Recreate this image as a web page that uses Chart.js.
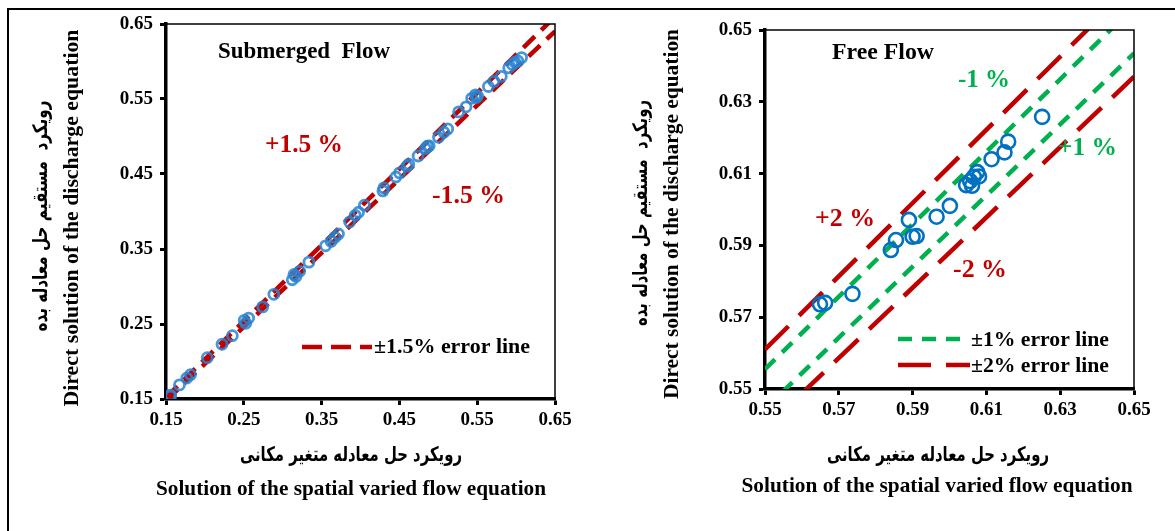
<!DOCTYPE html>
<html><head><meta charset="utf-8">
<script src="https://cdn.jsdelivr.net/npm/chart.js@4.4.1/dist/chart.umd.min.js"></script>
<style>
html,body{margin:0;padding:0;background:#fff;width:1175px;height:531px;overflow:hidden;position:relative;}
#frame{position:absolute;left:7px;top:8px;width:1300px;height:700px;border-top:2.5px solid #000;border-left:2.5px solid #000;}
canvas{position:absolute;top:0;}
#c1{left:0;width:580px;height:531px;}
#c2{left:580px;width:595px;height:531px;}
</style></head><body>
<div id="frame"></div>
<canvas id="c1" width="580" height="531"></canvas>
<canvas id="c2" width="595" height="531"></canvas>
<script>
// ---------- DATA ----------
// Submerged flow
const subX = [0.1554,0.1560,0.1673,0.1768,0.1815,0.2030,0.2220,0.2353,0.2505,0.2525,0.2562,0.2743,0.2886,0.3123,0.3145,0.3171,0.3218,0.3337,0.3551,0.3622,0.3670,0.3717,0.3860,0.3932,0.3975,0.4050,0.4288,0.4301,0.4455,0.4502,0.4597,0.4620,0.4740,0.4835,0.4860,0.4883,0.5002,0.5072,0.5121,0.5262,0.5357,0.5429,0.5477,0.5490,0.5505,0.5643,0.5715,0.5810,0.5905,0.5952,0.5985,0.6023,0.6071];
const subY = [0.1552,0.1540,0.1688,0.1779,0.1824,0.2051,0.2231,0.2344,0.2548,0.2510,0.2579,0.2728,0.2896,0.3090,0.3160,0.3135,0.3203,0.3325,0.3543,0.3601,0.3655,0.3700,0.3859,0.3949,0.3990,0.4084,0.4275,0.4315,0.4460,0.4515,0.4604,0.4630,0.4740,0.4840,0.4870,0.4876,0.4989,0.5057,0.5101,0.5328,0.5396,0.5509,0.5555,0.5520,0.5540,0.5667,0.5735,0.5803,0.5916,0.5961,0.5990,0.6007,0.6052];
const subLineX = [0.15, 0.65];
const subUpperY = [0.15225, 0.65975];   // +1.5 %
const subLowerY = [0.14775, 0.64025];   // -1.5 %
const subTicks = ['0.15','0.25','0.35','0.45','0.55','0.65'];

// Free flow
const freeX = [0.5649,0.5663,0.5737,0.5841,0.5855,0.5890,0.5900,0.5911,0.5965,0.6001,0.6045,0.6056,0.6061,0.6066,0.6075,0.6080,0.6114,0.6149,0.6159,0.6251];
const freeY = [0.5736,0.5740,0.5765,0.5887,0.5915,0.5971,0.5924,0.5926,0.5980,0.6010,0.6068,0.6079,0.6066,0.6091,0.6104,0.6092,0.6140,0.6159,0.6189,0.6258];
const freeLineX = [0.55, 0.65];
const err1UpperY = [0.5555, 0.6565];
const err1LowerY = [0.5445, 0.6435];
const err2UpperY = [0.5610, 0.6630];
const err2LowerY = [0.5390, 0.6370];
const freeTicks = ['0.55','0.57','0.59','0.61','0.63','0.65'];

const fa_y = 'رویکرد  مستقیم حل معادله بده';
const fa_x = 'رویکرد حل معادله متغیر مکانی';
const en_y = 'Direct solution of the discharge equation';
const en_x = 'Solution of the spatial varied flow equation';

// ---------- HELPERS ----------
const SERIF = '"Liberation Serif","Times New Roman",serif';
const RED = '#c00000', GREEN = '#00b050';
const pts = (xs, ys) => xs.map((x, i) => ({x, y: ys[i]}));

function drawTxt(ctx, t) {
  ctx.save();
  ctx.font = t.font;
  ctx.fillStyle = t.color || '#000';
  ctx.textBaseline = 'alphabetic';
  ctx.textAlign = t.align || 'left';
  const w = ctx.measureText(t.s).width;
  const sx = t.w ? t.w / w : 1;
  ctx.translate(t.x, t.y);
  if (t.rot) ctx.rotate(t.rot);
  ctx.scale(sx, 1);
  ctx.fillText(t.s, 0, 0);
  ctx.restore();
}
function drawLegLine(ctx, x1, x2, y, color, dash) {
  ctx.save();
  ctx.strokeStyle = color; ctx.lineWidth = 4.5; ctx.setLineDash(dash); ctx.lineCap = 'butt';
  ctx.beginPath(); ctx.moveTo(x1, y); ctx.lineTo(x2, y); ctx.stroke();
  ctx.restore();
}
function overlay(texts, legends) {
  return {
    id: 'overlay',
    afterDraw(chart) {
      const ctx = chart.ctx, a = chart.chartArea;
      ctx.save();
      ctx.strokeStyle = '#000'; ctx.lineWidth = 1.5;
      ctx.beginPath();
      ctx.moveTo(a.left, a.top); ctx.lineTo(a.right, a.top); ctx.lineTo(a.right, a.bottom);
      ctx.stroke();
      ctx.restore();
      legends.forEach(l => drawLegLine(ctx, l.x1, l.x2, l.y, l.color, l.dash));
      texts.forEach(t => drawTxt(ctx, t));
    }
  };
}
function scale(min, max, step, labels, isX, size) {
  return {
    type: 'linear', min, max,
    ticks: { stepSize: step, color: '#000', padding: isX ? 4 : 7,
      font: { family: SERIF, size: 19, weight: 'bold' },
      maxRotation: 0, autoSkip: false,
      callback: (v, i) => labels[i] },
    grid: { display: true, drawOnChartArea: false, drawTicks: true, tickLength: 6, tickWidth: 3, tickColor: '#000' },
    border: { display: true, color: '#000', width: 3.5 },
    afterFit(s) { if (isX) s.height = size; else s.width = size; }
  };
}
function lineDs(xs, ys, color, dash) {
  return { type: 'line', data: pts(xs, ys), borderColor: color, borderWidth: 4.5, borderDash: dash,
    borderCapStyle: 'butt', pointRadius: 0, fill: false, showLine: true, clip: 0, order: 2 };
}

// ---------- CHART 1: Submerged ----------
const t1 = [
  {s: 'Submerged  Flow', x: 218, y: 58, font: 'bold 23px ' + SERIF, w: 172},
  {s: '+1.5 %', x: 265, y: 152, font: 'bold 25px ' + SERIF, color: RED, w: 78},
  {s: '-1.5 %', x: 432, y: 203, font: 'bold 25px ' + SERIF, color: RED, w: 73},
  {s: '±1.5% error line', x: 374, y: 353, font: 'bold 22px ' + SERIF, w: 156},
  {s: fa_x, x: 351, y: 461, font: 'bold 20px "DejaVu Sans"', align: 'center', w: 222},
  {s: en_x, x: 351, y: 495, font: 'bold 22px ' + SERIF, align: 'center', w: 390},
  {s: en_y, x: 78, y: 218, font: 'bold 22px ' + SERIF, align: 'center', rot: -Math.PI / 2, w: 377},
  {s: fa_y, x: 47, y: 216, font: 'bold 20px "DejaVu Sans"', align: 'center', rot: -Math.PI / 2, w: 231}
];
const l1 = [{x1: 302, x2: 372, y: 347, color: RED, dash: [20, 9]}];

new Chart(document.getElementById('c1'), {
  type: 'scatter',
  data: { datasets: [
    { data: pts(subX, subY), borderColor: 'rgba(40,132,208,0.85)', backgroundColor: 'rgba(0,0,0,0)',
      borderWidth: 2.8, pointRadius: 5, order: 1 },
    lineDs(subLineX, subUpperY, RED, [16, 9]),
    lineDs(subLineX, subLowerY, RED, [16, 9])
  ]},
  options: {
    responsive: false, animation: false, devicePixelRatio: 1,
    layout: { padding: { left: 106, right: 25, top: 24, bottom: 92 } },
    plugins: { legend: { display: false }, tooltip: { enabled: false } },
    scales: { x: scale(0.15, 0.65, 0.1, subTicks, true, 40), y: scale(0.15, 0.65, 0.1, subTicks, false, 60) }
  },
  plugins: [overlay(t1, l1)]
});

// ---------- CHART 2: Free ----------
const t2 = [
  {s: 'Free Flow', x: 252, y: 59, font: 'bold 23px ' + SERIF, w: 102},
  {s: '-1 %', x: 378, y: 87, font: 'bold 25px ' + SERIF, color: GREEN, w: 52},
  {s: '+1 %', x: 478, y: 155, font: 'bold 25px ' + SERIF, color: GREEN, w: 59},
  {s: '+2 %', x: 235, y: 226, font: 'bold 25px ' + SERIF, color: RED, w: 60},
  {s: '-2 %', x: 373, y: 277, font: 'bold 25px ' + SERIF, color: RED, w: 54},
  {s: '±1% error line', x: 391, y: 346, font: 'bold 22px ' + SERIF, w: 138},
  {s: '±2% error line', x: 391, y: 372, font: 'bold 22px ' + SERIF, w: 138},
  {s: fa_x, x: 358, y: 461, font: 'bold 20px "DejaVu Sans"', align: 'center', w: 222},
  {s: en_x, x: 357, y: 492, font: 'bold 22px ' + SERIF, align: 'center', w: 391},
  {s: en_y, x: 98, y: 214, font: 'bold 22px ' + SERIF, align: 'center', rot: -Math.PI / 2, w: 370},
  {s: fa_y, x: 67, y: 213, font: 'bold 20px "DejaVu Sans"', align: 'center', rot: -Math.PI / 2, w: 226}
];
const l2 = [
  {x1: 318, x2: 390, y: 339, color: GREEN, dash: [14, 10]},
  {x1: 318, x2: 390, y: 365, color: RED, dash: [33, 15]}
];

new Chart(document.getElementById('c2'), {
  type: 'scatter',
  data: { datasets: [
    { data: pts(freeX, freeY), borderColor: '#0070c0', backgroundColor: 'rgba(0,0,0,0)',
      borderWidth: 2.6, pointRadius: 7, order: 1 },
    lineDs(freeLineX, err1UpperY, GREEN, [14, 10]),
    lineDs(freeLineX, err1LowerY, GREEN, [14, 10]),
    lineDs(freeLineX, err2UpperY, RED, [33, 15]),
    lineDs(freeLineX, err2LowerY, RED, [33, 15])
  ]},
  options: {
    responsive: false, animation: false, devicePixelRatio: 1,
    layout: { padding: { left: 125, right: 41, top: 30, bottom: 102 } },
    plugins: { legend: { display: false }, tooltip: { enabled: false } },
    scales: { x: scale(0.55, 0.65, 0.02, freeTicks, true, 40), y: scale(0.55, 0.65, 0.02, freeTicks, false, 60) }
  },
  plugins: [overlay(t2, l2)]
});
</script>
</body></html>
